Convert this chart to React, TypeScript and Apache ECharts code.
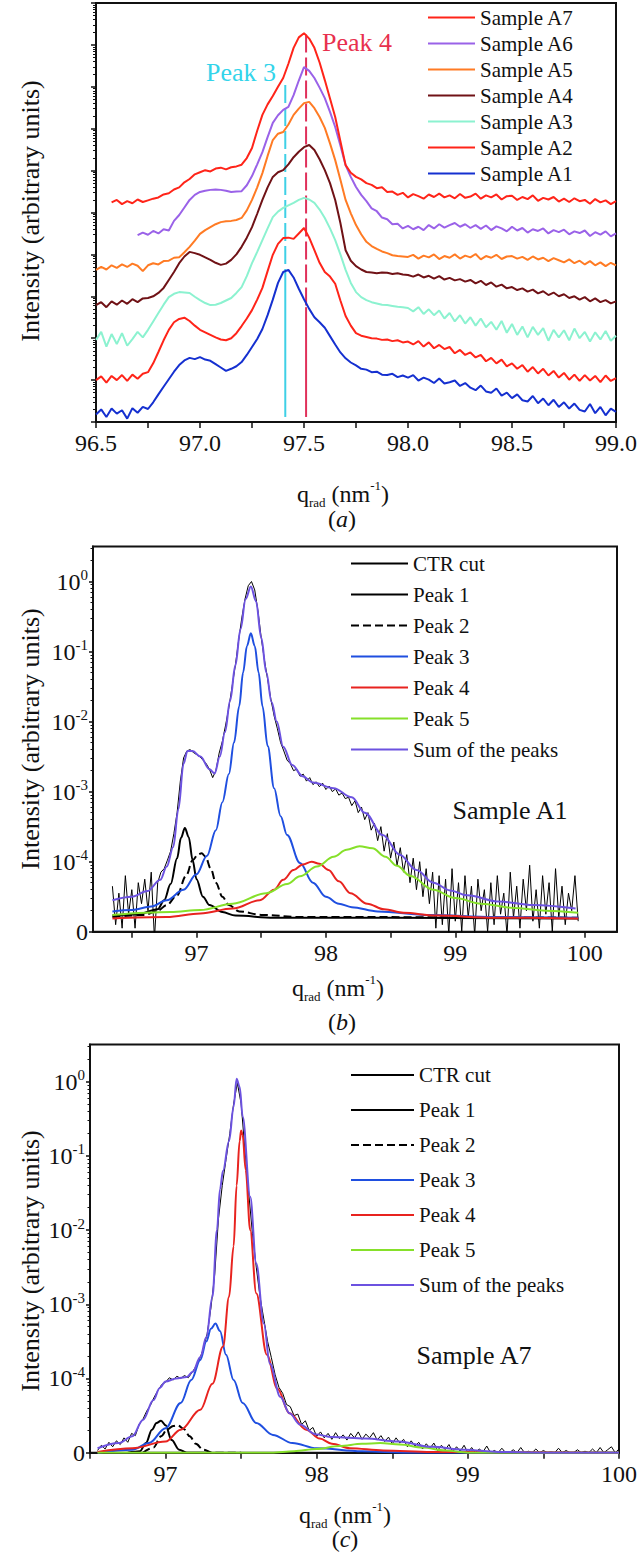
import React, { useEffect, useRef } from "react";
import * as echarts from "echarts";

const FONT = "Liberation Serif, Times New Roman, serif";
const INK = "#111111";

// ---------------- panel (a): offset log traces (decades, arbitrary offset) ----------------
const qStartA = 96.5;
const qStepA = 0.025;

const sampleA1 = [
  0.18, 0.3, 0.12, 0.32, 0.2, 0.28, 0.08, 0.33, 0.22, 0.36,
  0.31, 0.47, 0.66, 0.84, 1.02, 1.2, 1.36, 1.47, 1.53, 1.5,
  1.55, 1.49, 1.46, 1.38, 1.3, 1.22, 1.27, 1.33, 1.43, 1.6,
  1.79, 1.98, 2.22, 2.55, 2.92, 3.32, 3.58, 3.63, 3.45, 3.18,
  2.93, 2.7, 2.5, 2.38, 2.25, 2.05, 1.85, 1.66, 1.52, 1.42,
  1.35, 1.27, 1.25, 1.19, 1.2, 1.13, 1.12, 1.15, 1.07, 1.11,
  1.06, 1.12, 0.99, 1.06, 1.01, 0.93, 1.04, 0.92, 0.95, 0.99,
  0.86, 0.93, 0.82, 0.76, 0.87, 0.73, 0.7, 0.8, 0.63, 0.7,
  0.57, 0.66, 0.52, 0.49, 0.62, 0.45, 0.56, 0.4, 0.53, 0.36,
  0.47, 0.32, 0.44, 0.29, 0.25, 0.43, 0.21, 0.36, 0.16, 0.32,
  0.24,
];
const sampleA2 = [
  1.0, 1.09, 0.94, 1.1, 1.0, 1.12, 0.98, 1.13, 1.03, 1.15,
  1.19, 1.4, 1.67, 1.95, 2.2, 2.38, 2.46, 2.49, 2.41, 2.3,
  2.2, 2.14, 2.08, 2.02, 1.97, 1.95, 2.0, 2.12, 2.29, 2.47,
  2.67, 2.92, 3.2, 3.6, 3.99, 4.25, 4.39, 4.4, 4.37, 4.5,
  4.63, 4.4, 4.1, 3.8, 3.58, 3.47, 3.3, 2.9, 2.53, 2.3,
  2.12, 2.06, 2.03, 2.0, 1.99, 1.96, 1.97, 1.93, 1.95, 1.9,
  1.92, 1.85, 1.93, 1.8, 1.9, 1.76, 1.84, 1.74, 1.79, 1.64,
  1.72, 1.6, 1.66, 1.54, 1.6, 1.45, 1.53, 1.4, 1.49, 1.33,
  1.4, 1.27, 1.36, 1.2, 1.31, 1.16, 1.27, 1.11, 1.22, 1.06,
  1.17, 1.01, 1.13, 0.98, 1.12, 0.99, 1.1, 0.95, 1.11, 0.98,
  1.05,
];
const sampleA3 = [
  1.96, 2.15, 1.8, 2.1, 1.86, 2.12, 1.82, 1.98, 2.15, 2.02,
  2.2, 2.4, 2.6, 2.8, 2.98, 3.06, 3.1, 3.09, 3.08, 2.99,
  2.91, 2.84, 2.79, 2.8, 2.84, 2.9, 2.96, 3.08, 3.22, 3.48,
  3.79, 4.06, 4.34, 4.62, 4.89, 5.02, 5.11, 5.17, 5.23, 5.3,
  5.35, 5.31, 5.23, 5.07, 4.87, 4.62, 4.34, 4.0, 3.63, 3.32,
  3.1, 2.98, 2.91, 2.86, 2.83, 2.8, 2.79, 2.77, 2.75, 2.74,
  2.72, 2.64, 2.74, 2.58, 2.69, 2.55, 2.66, 2.47, 2.6, 2.4,
  2.55, 2.35, 2.5, 2.3, 2.47, 2.26, 2.39, 2.2, 2.41, 2.13,
  2.34, 2.08, 2.28, 2.02, 2.27, 2.08, 2.24, 1.94, 2.2, 2.02,
  2.19, 1.95, 2.23, 2.0, 2.15, 1.92, 2.14, 1.97, 2.17, 1.94,
  2.06,
];
const sampleA4 = [
  2.79, 2.86, 2.74, 2.88, 2.8, 2.9, 2.82, 2.93, 2.86, 2.95,
  2.96, 3.0, 3.08, 3.2, 3.39, 3.58, 3.79, 3.95, 4.06, 4.03,
  3.99, 3.93, 3.87, 3.8, 3.75, 3.78, 3.87, 4.0, 4.18, 4.4,
  4.65, 4.97, 5.3, 5.6, 5.85, 5.96, 6.01, 6.15, 6.32, 6.45,
  6.56, 6.61, 6.49, 6.27, 6.01, 5.7, 5.3, 4.75, 4.1, 3.85,
  3.72, 3.64, 3.58, 3.57, 3.55, 3.57, 3.56, 3.53, 3.55, 3.52,
  3.51, 3.47, 3.52, 3.45, 3.49, 3.42, 3.48, 3.4, 3.44, 3.38,
  3.41, 3.35, 3.39, 3.31, 3.37, 3.27, 3.33, 3.23, 3.28, 3.19,
  3.22, 3.15, 3.19, 3.11, 3.16, 3.07, 3.12, 3.03, 3.09, 3.0,
  3.05, 2.96, 3.0, 2.92, 2.98, 2.88, 2.95, 2.86, 2.91, 2.83,
  2.88,
];
const sampleA5 = [
  3.63, 3.7, 3.64, 3.74, 3.68, 3.76, 3.7, 3.78, 3.73, 3.6,
  3.74, 3.79, 3.76, 3.84, 3.85, 3.92, 3.93, 4.05, 4.18, 4.33,
  4.49, 4.58, 4.65, 4.72, 4.77, 4.79, 4.8, 4.82, 4.87, 5.05,
  5.3, 5.6, 5.94, 6.35, 6.73, 6.88, 6.92, 7.1, 7.33, 7.48,
  7.61, 7.64, 7.49, 7.28, 7.02, 6.65, 6.25, 5.78, 5.3, 4.98,
  4.7, 4.48, 4.3, 4.2, 4.13, 4.07, 4.03, 3.98, 3.96, 3.95,
  3.94, 3.99, 3.9, 3.97, 3.93, 4.0, 3.89, 3.96, 3.92, 4.0,
  3.9, 3.97, 3.93, 4.01, 3.88, 3.96, 3.92, 3.99, 3.89, 3.95,
  3.96, 3.9, 3.94, 3.87, 3.95, 3.88, 3.92, 3.84, 3.91, 3.86,
  3.81, 3.88, 3.79, 3.85, 3.76, 3.84, 3.74, 3.81, 3.72, 3.8,
  3.74,
];
const sampleA6 = [
  null, null, null, null, null, null, null, null, 4.46, 4.52,
  4.47, 4.56, 4.5, 4.6, 4.57, 4.8, 4.94, 5.12, 5.3, 5.42,
  5.49, 5.52, 5.54, 5.55, 5.54, 5.52, 5.49, 5.5, 5.51, 5.65,
  5.87, 6.15, 6.44, 6.8, 7.14, 7.32, 7.45, 7.52, 7.8, 8.15,
  8.47, 8.38, 8.21, 7.98, 7.73, 7.4, 7.04, 6.6, 6.13, 5.85,
  5.61, 5.42, 5.27, 5.1, 5.03, 4.88, 4.84, 4.72, 4.73, 4.62,
  4.68, 4.6, 4.66, 4.58, 4.7, 4.62, 4.72, 4.64, 4.7, 4.75,
  4.66, 4.72, 4.63, 4.7, 4.61, 4.69, 4.58, 4.67, 4.62, 4.55,
  4.66, 4.57, 4.63, 4.52, 4.6, 4.56, 4.62, 4.5, 4.58, 4.53,
  4.59, 4.48, 4.55, 4.51, 4.57, 4.44, 4.53, 4.47, 4.55, 4.43,
  4.5,
];
const sampleA7 = [
  null, null, null, 5.24, 5.3, 5.2, 5.27, 5.22, 5.31, 5.25,
  5.29, 5.33, 5.36, 5.43, 5.46, 5.55, 5.6, 5.72, 5.8, 5.91,
  5.96, 6.01, 5.98, 6.05, 6.07, 6.03, 6.08, 6.1, 6.14, 6.3,
  6.54, 6.95, 7.33, 7.58, 7.78, 8.0, 8.21, 8.55, 8.93, 9.18,
  9.28, 9.15, 8.93, 8.58, 8.16, 7.72, 7.28, 6.7, 6.13, 5.95,
  5.85, 5.79, 5.7, 5.66, 5.58, 5.6, 5.49, 5.5, 5.42, 5.47,
  5.36, 5.44, 5.39, 5.33, 5.43, 5.37, 5.45, 5.36, 5.41, 5.34,
  5.44, 5.35, 5.38, 5.45, 5.33, 5.41, 5.36, 5.43, 5.31, 5.39,
  5.4, 5.3, 5.37, 5.32, 5.41, 5.28, 5.35, 5.31, 5.37, 5.26,
  5.33, 5.25, 5.34, 5.27, 5.3, 5.21, 5.32, 5.24, 5.29, 5.2,
  5.27,
];

const sampleNames = ["Sample A7", "Sample A6", "Sample A5", "Sample A4", "Sample A3", "Sample A2", "Sample A1"];
const sampleColors = ["#ff2419", "#9a62e8", "#ff7b24", "#701216", "#8cf2d0", "#ff2419", "#1530d0"];
const sampleValues = [sampleA7, sampleA6, sampleA5, sampleA4, sampleA3, sampleA2, sampleA1];

// marker lines in (a): position (q) and vertical spans (axis decades)
const peak3Q = 97.41;
const peak4Q = 97.51;
const peak3DashedSpan = [8.04, 3.62];
const peak3SolidSpan = [3.62, 0.12];
const peak4DashedSpan = [9.25, 2.74];
const peak4SolidSpan = [2.74, 0.12];

// ---------------- panel (b): Sample A1 fit (log10 intensity; -5 shown as "0") ----------------
const qStartB = 96.35;
const qStepB = 0.025;
const ctrB = [
  -4.35, -4.9, -4.45, -4.95, -4.2, -4.75, -4.4, -4.95, -4.3, -4.6,
  -4.25, -4.7, -4.15, -5.1, -4.3, -4.15, -4.1, -3.98, -3.85, -3.6,
  -3.3, -2.85, -2.52, -2.42, -2.4, -2.44, -2.47, -2.5, -2.55, -2.6,
  -2.68, -2.8, -2.7, -2.45, -2.28, -2.05, -1.8, -1.5, -1.2, -0.85,
  -0.52, -0.25, -0.06, 0.0, -0.12, -0.42, -0.8, -1.12, -1.4, -1.68,
  -1.92, -2.1, -2.3, -2.42, -2.55, -2.6, -2.7, -2.68, -2.78, -2.75,
  -2.85, -2.8, -2.9, -2.86, -2.93, -2.88, -2.97, -2.92, -3.0, -2.96,
  -3.05, -3.02, -3.1, -3.08, -3.2, -3.13, -3.3, -3.22, -3.4, -3.3,
  -3.55, -3.45, -3.7, -3.5, -3.85, -3.6, -3.95, -3.72, -4.05, -3.8,
  -4.15, -3.9, -4.3, -3.95, -4.4, -4.0, -4.5, -4.1, -4.6, -4.15,
  -4.95, -4.2, -4.9, -4.25, -5.05, -4.1, -4.85, -4.3, -5.0, -4.2,
  -4.8, -4.35, -5.05, -4.25, -4.7, -4.4, -5.0, -4.3, -4.9, -4.2,
  -4.75, -4.45, -5.05, -4.15, -4.8, -4.35, -4.95, -4.25, -4.7, -4.05,
  -4.85, -4.4, -4.95, -4.2, -4.75, -4.3, -5.0, -4.1, -4.8, -4.35,
  -4.9, -4.45, -4.7, -4.2, -4.85,
];
const peak1B = [[96.35, -4.77], [96.55, -4.75], [96.7, -4.68], [96.75, -4.55], [96.8, -4.32], [96.85, -3.95], [96.88, -3.66], [96.91, -3.52], [96.94, -3.65], [96.97, -3.98], [97.0, -4.25], [97.05, -4.5], [97.1, -4.62], [97.2, -4.72], [97.3, -4.77], [97.6, -4.8], [99.95, -4.81]];
const peak2B = [[96.35, -4.79], [96.6, -4.76], [96.7, -4.7], [96.77, -4.62], [96.85, -4.48], [96.92, -4.2], [96.97, -3.98], [97.01, -3.9], [97.04, -3.88], [97.07, -3.93], [97.11, -4.1], [97.15, -4.3], [97.2, -4.5], [97.25, -4.62], [97.33, -4.71], [97.5, -4.76], [97.8, -4.79], [99.95, -4.8]];
const peak3B = [[96.35, -4.71], [96.5, -4.69], [96.65, -4.64], [96.77, -4.55], [96.9, -4.4], [97.0, -4.18], [97.08, -3.92], [97.15, -3.55], [97.2, -3.15], [97.25, -2.75], [97.29, -2.3], [97.33, -1.78], [97.36, -1.3], [97.39, -0.92], [97.42, -0.74], [97.45, -0.92], [97.48, -1.3], [97.51, -1.78], [97.55, -2.35], [97.6, -2.95], [97.65, -3.35], [97.7, -3.62], [97.8, -4.02], [97.9, -4.3], [98.0, -4.5], [98.1, -4.6], [98.2, -4.65], [98.4, -4.71], [98.8, -4.76], [99.3, -4.79], [99.95, -4.8]];
const peak4B = [[96.35, -4.81], [96.77, -4.79], [97.03, -4.74], [97.28, -4.67], [97.49, -4.55], [97.6, -4.4], [97.67, -4.26], [97.75, -4.12], [97.82, -4.04], [97.89, -4.0], [97.95, -4.03], [98.02, -4.12], [98.1, -4.28], [98.19, -4.45], [98.32, -4.6], [98.45, -4.68], [98.6, -4.73], [98.85, -4.77], [99.3, -4.8], [99.95, -4.81]];
const peak5B = [[96.35, -4.76], [96.8, -4.72], [97.03, -4.69], [97.28, -4.6], [97.54, -4.45], [97.7, -4.32], [97.8, -4.21], [97.93, -4.07], [98.06, -3.93], [98.16, -3.83], [98.26, -3.78], [98.36, -3.81], [98.46, -3.93], [98.55, -4.06], [98.65, -4.2], [98.83, -4.4], [99.0, -4.52], [99.2, -4.6], [99.45, -4.66], [99.7, -4.7], [99.95, -4.73]];
const sumB = [[96.35, -4.55], [96.5, -4.5], [96.62, -4.42], [96.72, -4.26], [96.77, -4.07], [96.82, -3.79], [96.86, -3.25], [96.9, -2.6], [96.93, -2.42], [96.97, -2.42], [97.03, -2.5], [97.1, -2.68], [97.14, -2.74], [97.18, -2.5], [97.22, -2.15], [97.26, -1.7], [97.3, -1.2], [97.34, -0.68], [97.38, -0.25], [97.42, -0.07], [97.46, -0.28], [97.5, -0.8], [97.54, -1.3], [97.58, -1.72], [97.62, -2.0], [97.67, -2.36], [97.74, -2.62], [97.82, -2.78], [97.9, -2.87], [98.06, -2.95], [98.2, -3.08], [98.3, -3.3], [98.44, -3.62], [98.57, -3.9], [98.7, -4.12], [98.83, -4.3], [98.96, -4.41], [99.09, -4.48], [99.34, -4.57], [99.6, -4.62], [99.93, -4.67]];

// ---------------- panel (c): Sample A7 fit ----------------
const qStartC = 96.55;
const qStepC = 0.025;
const ctrC = [
  -4.97, -4.9, -4.95, -4.86, -4.92, -4.84, -4.89, -4.8, -4.86, -4.74,
  -4.77, -4.62, -4.55, -4.44, -4.36, -4.25, -4.16, -4.08, -4.05, -3.99,
  -4.02, -3.97, -4.0, -3.96, -3.99, -3.92, -3.84, -3.74, -3.6, -3.4,
  -3.05, -2.6, -1.85, -1.4, -1.05, -0.7, -0.3, -0.02, -0.3, -0.92,
  -1.5, -2.05, -2.5, -2.9, -3.2, -3.5, -3.72, -3.95, -4.12, -4.2,
  -4.35, -4.38, -4.5, -4.48, -4.62, -4.57, -4.7, -4.66, -4.78, -4.72,
  -4.8, -4.74, -4.82, -4.73, -4.81, -4.76, -4.83, -4.74, -4.8, -4.72,
  -4.82, -4.75, -4.8, -4.73, -4.83, -4.77, -4.85, -4.79, -4.88, -4.8,
  -4.87, -4.82, -4.92, -4.84, -4.91, -4.86, -4.95, -4.88, -4.94, -4.87,
  -4.97, -4.9, -4.96, -4.89, -4.99, -4.92, -4.98, -4.9, -5.0, -4.93,
  -5.0, -4.95, -4.99, -4.91, -5.0, -4.97, -5.0, -4.94, -5.0, -5.0,
  -4.96, -5.0, -4.93, -5.0, -4.98, -5.0, -4.95, -5.0, -4.97, -5.0,
  -4.99, -5.0, -4.94, -5.0, -4.97, -5.0, -5.0, -4.96, -5.0, -4.98,
  -5.0, -4.95, -5.0, -4.93, -5.0, -4.96, -4.92, -5.0, -4.95,
];
const peak1C = [[96.75, -5.0], [96.83, -4.98], [96.87, -4.87], [96.91, -4.69], [96.94, -4.6], [96.97, -4.57], [97.0, -4.63], [97.04, -4.83], [97.09, -4.96], [97.14, -5.0], [97.3, -5.0]];
const peak2C = [[96.85, -5.0], [96.92, -4.93], [96.97, -4.78], [97.01, -4.69], [97.05, -4.64], [97.08, -4.63], [97.12, -4.68], [97.16, -4.78], [97.2, -4.88], [97.25, -4.96], [97.31, -5.0], [97.5, -5.0]];
const peak3C = [[96.55, -5.0], [96.78, -4.96], [96.89, -4.87], [97.0, -4.67], [97.1, -4.33], [97.17, -4.02], [97.23, -3.75], [97.27, -3.5], [97.3, -3.33], [97.33, -3.26], [97.36, -3.36], [97.4, -3.68], [97.45, -4.02], [97.51, -4.33], [97.6, -4.6], [97.71, -4.76], [97.84, -4.87], [98.0, -4.94], [98.3, -4.98], [98.6, -5.0], [100.0, -5.0]];
const peak4C = [[96.55, -4.99], [96.78, -4.94], [97.0, -4.85], [97.1, -4.69], [97.23, -4.42], [97.31, -4.07], [97.38, -3.57], [97.42, -2.9], [97.45, -2.22], [97.47, -1.4], [97.49, -0.8], [97.5, -0.66], [97.51, -0.72], [97.53, -1.19], [97.56, -2.0], [97.6, -2.85], [97.67, -3.68], [97.74, -4.14], [97.82, -4.47], [97.93, -4.69], [98.02, -4.81], [98.1, -4.88], [98.22, -4.94], [98.44, -4.97], [98.76, -4.99], [100.0, -5.0]];
const peak5C = [[96.55, -5.0], [97.7, -5.0], [97.85, -4.98], [98.0, -4.95], [98.15, -4.91], [98.3, -4.88], [98.42, -4.87], [98.55, -4.89], [98.7, -4.93], [98.85, -4.97], [99.0, -5.0], [100.0, -5.0]];
const sumC = [[96.55, -4.94], [96.69, -4.87], [96.78, -4.78], [96.85, -4.56], [96.92, -4.29], [96.96, -4.13], [97.0, -4.04], [97.07, -4.0], [97.14, -3.98], [97.18, -3.91], [97.23, -3.71], [97.27, -3.44], [97.31, -2.9], [97.34, -2.0], [97.36, -1.45], [97.38, -1.2], [97.42, -0.8], [97.45, -0.34], [97.47, 0.04], [97.49, -0.07], [97.51, -0.47], [97.56, -1.55], [97.6, -2.45], [97.65, -3.26], [97.69, -3.8], [97.76, -4.25], [97.82, -4.47], [97.89, -4.62], [97.99, -4.75], [98.1, -4.79], [98.32, -4.81], [98.54, -4.85], [98.76, -4.92], [98.98, -4.96], [99.2, -4.99], [99.5, -5.0], [100.0, -5.0]];

const fitNames = ["CTR cut", "Peak 1", "Peak 2", "Peak 3", "Peak 4", "Peak 5", "Sum of the peaks"];
const fitColors = ["#000000", "#000000", "#000000", "#1f4fe0", "#e8231f", "#86e02a", "#6c52e0"];
const fitWidths = [1, 2, 2, 2, 2, 2, 2];
const fitDash = ["solid", "solid", "dashed", "solid", "solid", "solid", "solid"];

// tick positions
const xTicksB = [96.5, 97, 97.5, 98, 98.5, 99, 99.5, 100];
const xLabelsB = [97, 98, 99, 100];
const decadeTicksBC = [-5, -4, -3, -2, -1, 0];

function grid(values: any[], start: number, step: number) {
  return values.map((v, i) => [Number((start + i * step).toFixed(4)), v]);
}
function logMinor(lo: number, hi: number) {
  const out: number[] = [];
  for (let n = Math.floor(lo); n < hi; n++) {
    for (let m = 2; m <= 9; m++) {
      const v = n + Math.log10(m);
      if (v > lo && v < hi) out.push(Number(v.toFixed(4)));
    }
  }
  return out;
}

const labelFont = { fontFamily: FONT, fontSize: 24, color: INK };
const axisLine = { show: true, onZero: false, lineStyle: { color: INK, width: 2 } };

function powLabelRich() {
  return {
    b: { fontFamily: FONT, fontSize: 24, color: INK, lineHeight: 28 },
    s: { fontFamily: FONT, fontSize: 15, color: INK, lineHeight: 18, verticalAlign: "top" },
  };
}

function richText(x: number, y: number, text: string, rich: any, extra: any = {}) {
  return {
    type: "text",
    x,
    y,
    ...extra,
    style: {
      text,
      rich,
      fill: INK,
      fontFamily: FONT,
      textAlign: "center",
      textVerticalAlign: "middle",
      align: "center",
      verticalAlign: "middle",
    },
  };
}
function plainText(x: number, y: number, text: string, size: number, color: string, extra: any = {}) {
  return {
    type: "text",
    x,
    y,
    ...extra,
    style: {
      text,
      fill: color,
      fontFamily: FONT,
      fontSize: size,
      textAlign: "center",
      textVerticalAlign: "middle",
      align: "center",
      verticalAlign: "middle",
    },
  };
}

const qRich = {
  q: { fontFamily: FONT, fontSize: 24, fill: INK, color: INK, lineHeight: 30 },
  sub: { fontFamily: FONT, fontSize: 13, fill: INK, color: INK, lineHeight: 12, verticalAlign: "bottom" },
  n: { fontFamily: FONT, fontSize: 24, fill: INK, color: INK, lineHeight: 30 },
  sup: { fontFamily: FONT, fontSize: 13, fill: INK, color: INK, lineHeight: 20, verticalAlign: "top" },
};
const capRich = {
  n: { fontFamily: FONT, fontSize: 24, fill: INK, color: INK },
  i: { fontFamily: FONT, fontSize: 24, fontStyle: "italic", fill: INK, color: INK },
};
const qTitle = "{q|q}{sub|rad}{n| (nm}{sup|-1}{n|)}";

function buildOption() {
  const series: any[] = [];

  // (a) marker lines
  const vline = (q: number, span: number[], color: string, dashed: boolean) => ({
    type: "line",
    xAxisIndex: 0,
    yAxisIndex: 0,
    data: [[q, span[0]], [q, span[1]]],
    symbol: "none",
    silent: true,
    lineStyle: { color, width: 2, type: dashed ? [18, 5] : "solid" },
    z: 1,
  });
  series.push(vline(peak3Q, peak3DashedSpan, "#3fd0e6", true));
  series.push(vline(peak3Q, peak3SolidSpan, "#3fd0e6", false));
  series.push(vline(peak4Q, peak4DashedSpan, "#e0305a", true));
  series.push(vline(peak4Q, peak4SolidSpan, "#e0305a", false));

  for (let k = sampleNames.length - 1; k >= 0; k--) {
    series.push({
      type: "line",
      name: sampleNames[k],
      xAxisIndex: 0,
      yAxisIndex: 0,
      data: grid(sampleValues[k], qStartA, qStepA),
      symbol: "none",
      connectNulls: false,
      lineStyle: { color: sampleColors[k], width: 2 },
      itemStyle: { color: sampleColors[k] },
      z: 2,
    });
  }

  const fitSets = [
    { xi: 1, yi: 2, ctr: grid(ctrB, qStartB, qStepB), fits: [peak1B, peak2B, peak3B, peak4B, peak5B, sumB] },
    { xi: 2, yi: 4, ctr: grid(ctrC, qStartC, qStepC), fits: [peak1C, peak2C, peak3C, peak4C, peak5C, sumC] },
  ];
  for (const set of fitSets) {
    const all = [set.ctr, ...set.fits];
    all.forEach((data, j) => {
      series.push({
        type: "line",
        name: fitNames[j],
        xAxisIndex: set.xi,
        yAxisIndex: set.yi,
        data,
        symbol: "none",
        smooth: j === 0 ? false : 0.35,
        smoothMonotone: j === 0 ? undefined : "x",
        lineStyle: { color: fitColors[j], width: fitWidths[j], type: fitDash[j] },
        itemStyle: { color: fitColors[j] },
        z: j === 0 ? 2 : 3,
      });
    });
  }

  const legendText = { fontFamily: FONT, fontSize: 21, color: INK, lineHeight: 21 };
  const legendCommon = {
    orient: "vertical", itemHeight: 14, textStyle: legendText, selectedMode: false, padding: 0,
    itemStyle: { opacity: 0 },
  };

  return {
    animation: false,
    backgroundColor: "#ffffff",
    textStyle: { fontFamily: FONT },
    grid: [
      { left: 96, top: 3, width: 522, height: 419, show: true, borderColor: INK, borderWidth: 2, backgroundColor: "transparent" },
      { left: 93, top: 546.5, width: 524, height: 385.2, show: true, borderColor: INK, borderWidth: 2, backgroundColor: "transparent" },
      { left: 90, top: 1044.5, width: 531, height: 408.2, show: true, borderColor: INK, borderWidth: 2, backgroundColor: "transparent" },
    ],
    xAxis: [
      {
        gridIndex: 0, type: "value", min: 96.5, max: 99, interval: 0.25,
        axisLine, splitLine: { show: false },
        axisTick: { show: true, length: 6, lineStyle: { color: INK, width: 1.5 } },
        axisLabel: {
          ...labelFont, margin: 9,
          formatter: (v: number) => (Math.abs(v * 2 - Math.round(v * 2)) < 1e-6 ? v.toFixed(1) : ""),
        },
      },
      {
        gridIndex: 1, type: "value", min: 96.2, max: 100.25,
        axisLine, splitLine: { show: false },
        axisTick: { show: true, length: 6, customValues: xTicksB, lineStyle: { color: INK, width: 1.5 } },
        axisLabel: { ...labelFont, margin: 9, customValues: xLabelsB, formatter: (v: number) => String(Math.round(v)) },
      },
      {
        gridIndex: 2, type: "value", min: 96.5, max: 100, interval: 0.5,
        axisLine, splitLine: { show: false },
        axisTick: { show: true, length: 6, lineStyle: { color: INK, width: 1.5 } },
        axisLabel: {
          ...labelFont, margin: 9,
          formatter: (v: number) => (Math.abs(v - Math.round(v)) < 1e-6 ? String(Math.round(v)) : ""),
        },
      },
    ],
    yAxis: [
      {
        gridIndex: 0, type: "value", min: 0, max: 10, interval: 1, position: "left",
        axisLine, splitLine: { show: false }, axisLabel: { show: false },
        axisTick: { show: true, length: 5, lineStyle: { color: INK, width: 1.5 } },
      },
      {
        gridIndex: 0, type: "value", min: 0, max: 10, position: "left", offset: 0,
        axisLine: { show: false }, splitLine: { show: false }, axisLabel: { show: false },
        axisTick: { show: true, length: 3, customValues: logMinor(0, 10), lineStyle: { color: INK, width: 1 } },
      },
      {
        gridIndex: 1, type: "value", min: -5, max: 0.5, position: "left",
        axisLine, splitLine: { show: false },
        axisTick: { show: true, length: 4, customValues: decadeTicksBC, lineStyle: { color: INK, width: 1.5 } },
        axisLabel: {
          margin: 5, customValues: decadeTicksBC, rich: powLabelRich(),
          formatter: (v: number) => (Math.round(v) === -5 ? "{b|0}" : `{b|10}{s|${Math.round(v)}}`),
        },
      },
      {
        gridIndex: 1, type: "value", min: -5, max: 0.5, position: "left", offset: 0,
        axisLine: { show: false }, splitLine: { show: false }, axisLabel: { show: false },
        axisTick: { show: true, length: 2.5, customValues: logMinor(-5, 0.5), lineStyle: { color: INK, width: 1 } },
      },
      {
        gridIndex: 2, type: "value", min: -5, max: 0.5, position: "left",
        axisLine, splitLine: { show: false },
        axisTick: { show: true, length: 4, customValues: decadeTicksBC, lineStyle: { color: INK, width: 1.5 } },
        axisLabel: {
          margin: 5, customValues: decadeTicksBC, rich: powLabelRich(),
          formatter: (v: number) => (Math.round(v) === -5 ? "{b|0}" : `{b|10}{s|${Math.round(v)}}`),
        },
      },
      {
        gridIndex: 2, type: "value", min: -5, max: 0.5, position: "left", offset: 0,
        axisLine: { show: false }, splitLine: { show: false }, axisLabel: { show: false },
        axisTick: { show: true, length: 2.5, customValues: logMinor(-5, 0.5), lineStyle: { color: INK, width: 1 } },
      },
    ],
    legend: [
      { ...legendCommon, data: sampleNames, left: 427, top: 7, itemWidth: 47, itemGap: 5 },
      { ...legendCommon, data: fitNames, left: 350, top: 553, itemWidth: 57, itemGap: 10 },
      { ...legendCommon, data: fitNames, left: 350, top: 1064.5, itemWidth: 63, itemGap: 14 },
    ],
    graphic: [
      plainText(30, 211, "Intensity (arbitrary units)", 26, INK, { rotation: Math.PI / 2 }),
      plainText(30, 739, "Intensity (arbitrary units)", 26, INK, { rotation: Math.PI / 2 }),
      plainText(30, 1261, "Intensity (arbitrary units)", 26, INK, { rotation: Math.PI / 2 }),
      richText(343, 494, qTitle, qRich),
      richText(338, 988, qTitle, qRich),
      richText(345, 1515, qTitle, qRich),
      richText(342, 519, "{n|(}{i|a}{n|)}", capRich),
      richText(342, 1022, "{n|(}{i|b}{n|)}", capRich),
      richText(345, 1539, "{n|(}{i|c}{n|)}", capRich),
      plainText(241, 72, "Peak 3", 26, "#33d4ea"),
      plainText(357, 42, "Peak 4", 26, "#e8304e"),
      plainText(510, 810, "Sample A1", 26, INK),
      plainText(474, 1355, "Sample A7", 26, INK),
    ],
    series,
  };
}

export default function App() {
  const ref = useRef<HTMLDivElement>(null);
  useEffect(() => {
    if (!ref.current) return;
    const chart = echarts.init(ref.current, undefined, { renderer: "svg" });
    chart.setOption(buildOption() as any);
    return () => chart.dispose();
  }, []);
  return (
    <div
      ref={ref}
      style={{ position: "absolute", left: 0, top: 0, width: 640, height: 1555, background: "#fff" }}
    />
  );
}
